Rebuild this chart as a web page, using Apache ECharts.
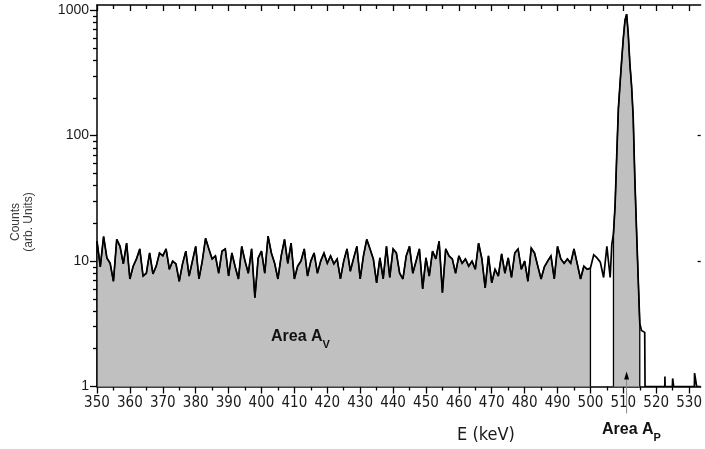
<!DOCTYPE html>
<html>
<head>
<meta charset="utf-8">
<script src="https://cdn.jsdelivr.net/npm/echarts@6/dist/echarts.min.js"></script>
<style>
  html, body { margin: 0; padding: 0; background: #ffffff; }
  #chart { width: 705px; height: 449px; }
</style>
</head>
<body>
<div id="chart"></div>
<script>
// Background continuum: 1 keV bins starting at bgStart
const bgStart = 350;
const bgCounts = [
  14.4, 9, 15.7, 10.6, 9.6, 6.9, 14.9, 13.1, 9.5, 13.9,
  7.2, 9.1, 10.4, 12.5, 7.6, 8.0, 11.6, 7.9, 9.1, 11.6,
  11, 12.5, 8.6, 10, 9.5, 6.9, 9.5, 12, 7.6, 10,
  13.1, 7.2, 10, 15.2, 12.5, 10.4, 11, 8, 12, 12.5,
  7.6, 11.6, 9, 7.2, 13.1, 10, 8, 12.5, 5.1, 10.6,
  12, 8, 15.8, 11.6, 9.6, 7.2, 11, 14.9, 9.6, 13.9,
  7.2, 9.1, 10, 12.5, 7.6, 10, 11.6, 8, 10, 11.6,
  9.6, 11, 9.5, 10.4, 7.2, 10, 12.5, 8.3, 10.5, 13.1,
  7.2, 11, 14.9, 12.5, 10.4, 6.7, 10.6, 7.2, 13.1, 7.4,
  12.5, 11.6, 8, 7.2, 11, 13.1, 8, 10, 12.5, 6.0,
  10.6, 7.6, 12, 10.4, 14.4, 5.6, 12.5, 11, 10.4, 8,
  11, 9.6, 10.4, 9.1, 10, 8.6, 13.9, 10.4, 6.1, 11,
  6.7, 8.6, 7.6, 11.4, 8, 10.6, 7.4, 11.6, 12.5, 8.6,
  10, 6.9, 12.7, 11.6, 9.1, 7.2, 9, 10, 11, 7.2,
  13.1, 10.4, 9.6, 10.4, 9.6, 12.5, 9.5, 7.2, 9.1, 8.6,
  8.8, 11.2, 10.6, 9.8, 7.4, 13.1, 7.4
];

// 511 keV photopeak, sampled every 0.5 keV
const peakEnergy = [506.5, 507, 507.5, 508, 508.5, 509, 509.5, 510, 510.5, 511,
                    511.5, 512, 512.5, 513, 513.5, 514, 514.5, 515, 515.5, 516, 516.5, 516.6];
const peakCounts = [13.6, 16.5, 28, 70, 165, 260, 400, 600, 830, 930,
                    640, 370, 250, 140, 45, 18, 7.5, 3.2, 2.8, 2.8, 2.7, 1];

// Sparse counts above the peak
const tailEnergy = [522.6, 522.65, 522.7, 524.9, 525.0, 525.3, 531.6, 531.65, 532.3, 533.5];
const tailCounts = [1, 1.2, 1, 1, 1.16, 1, 1, 1.28, 1, 1];

// Integration windows (keV)
const areaV = [350, 500];
const areaP = [507, 515];
const peakMark = 511;

// Axis extents and ticks
const xMin = 350, xMax = 533.5;
const xTicks = [350, 360, 370, 380, 390, 400, 410, 420, 430, 440,
                450, 460, 470, 480, 490, 500, 510, 520, 530];
const xMinorTicks = xTicks.map(v => v + 5).filter(v => v < xMax);
const yMin = 1, yMax = 1100;
const yTicks = [1, 10, 100, 1000];
const yRightTicks = [10, 100];
const yMinorTicks = [];
for (const d of [1, 10, 100]) {
  for (let k = 2; k <= 9; k++) yMinorTicks.push(d * k);
}

// Assemble spectrum as [energy, counts] pairs
const spectrum = [];
bgCounts.forEach((c, i) => spectrum.push([bgStart + i, c]));
peakEnergy.forEach((e, i) => spectrum.push([e, peakCounts[i]]));
tailEnergy.forEach((e, i) => spectrum.push([e, tailCounts[i]]));

function windowFill(range) {
  const pts = spectrum.filter(p => p[0] >= range[0] && p[0] <= range[1]);
  return [[range[0], 1]].concat(pts, [[range[1], 1]]);
}

// Pick a condensed face for the energy axis if one is installed
const ctx = document.createElement('canvas').getContext('2d');
function textWidth(str, font) { ctx.font = font; return ctx.measureText(str).width; }
const regular = '"Liberation Sans", Arial, sans-serif';
const baseW = textWidth('350 360 370', '15px ' + regular);
let narrow = regular, xLabelSize = 13, titleSize = 16;
for (const fam of ['"Liberation Sans Narrow"', '"DejaVu Sans Condensed"', '"Arial Narrow"']) {
  const w = textWidth('350 360 370', '15px ' + fam + ', ' + regular);
  if (Math.abs(w - baseW) > 1) { narrow = fam + ', ' + regular; xLabelSize = 15; titleSize = 18; break; }
}

const ink = '#1a1a1a';
const fillGray = '#c0c0c0';
const axisColor = '#000';

const chart = echarts.init(document.getElementById('chart'), null, { renderer: 'canvas' });

function xAxisDef(position, ticks, tickLen, inside, showLine, showLabel) {
  return {
    type: 'value', position: position, min: xMin, max: xMax,
    axisLine: { show: showLine, onZero: false, lineStyle: { color: axisColor, width: 1.5 } },
    axisTick: { show: true, inside: inside, length: tickLen, customValues: ticks,
                lineStyle: { color: axisColor, width: 1.3 } },
    axisLabel: showLabel
      ? { show: true, customValues: ticks, margin: 9, fontSize: xLabelSize, fontFamily: narrow, color: ink,
          formatter: v => String(v) }
      : { show: false },
    splitLine: { show: false }
  };
}

function yAxisDef(position, ticks, tickLen, inside, showLine, showLabel) {
  return {
    type: 'log', logBase: 10, min: yMin, max: yMax, position: position,
    axisLine: { show: showLine, onZero: false, lineStyle: { color: axisColor, width: 1.5 } },
    axisTick: { show: true, inside: inside, length: tickLen, customValues: ticks,
                lineStyle: { color: axisColor, width: 1.3 } },
    axisLabel: showLabel
      ? { show: true, customValues: ticks, margin: 8, fontSize: 14, fontFamily: regular, color: ink,
          formatter: v => String(v) }
      : { show: false },
    splitLine: { show: false }
  };
}

const option = {
  animation: false,
  backgroundColor: '#ffffff',
  grid: { left: 97, top: 5, bottom: 62.5, right: 0, containLabel: false },
  xAxis: [
    xAxisDef('bottom', xTicks, 7, false, true, true),
    xAxisDef('bottom', xMinorTicks, 4, false, false, false),
    xAxisDef('top', xTicks, 6, true, true, false),
    xAxisDef('top', xMinorTicks, 4, true, false, false)
  ],
  yAxis: [
    yAxisDef('left', yTicks, 7, false, true, true),
    yAxisDef('left', yMinorTicks, 4, false, false, false),
    yAxisDef('right', yRightTicks, 3, true, false, false)
  ],
  series: [
    {
      name: 'Area A_V', type: 'line', data: windowFill(areaV),
      showSymbol: false, symbol: 'none', silent: true, z: 2,
      lineStyle: { color: '#000', width: 1.3 },
      areaStyle: { color: fillGray, opacity: 1, origin: 'start' }
    },
    {
      name: 'Area A_P', type: 'line', data: windowFill(areaP),
      showSymbol: false, symbol: 'none', silent: true, z: 2,
      lineStyle: { color: '#000', width: 1.3 },
      areaStyle: { color: fillGray, opacity: 1, origin: 'start' }
    },
    {
      name: 'spectrum', type: 'line', data: spectrum,
      showSymbol: false, symbol: 'none', silent: true, z: 3,
      lineStyle: { color: '#000', width: 1.7, join: 'miter', miterLimit: 3 }
    }
  ]
};
chart.setOption(option);

// Annotations
const boldFont = 'bold 16px "Liberation Sans", Arial, sans-serif';
const subFont = 'bold 11px "Liberation Sans", Arial, sans-serif';
const sideFont = '12px "Liberation Sans", Arial, sans-serif';

function areaLabel(x, y, sub) {
  const w = textWidth('Area A', boldFont);
  return [
    { type: 'text', x: x, y: y, silent: true, z: 20,
      style: { text: 'Area A', font: boldFont, fill: '#111', textAlign: 'left', textVerticalAlign: 'middle' } },
    { type: 'text', x: x + w, y: y + 8, silent: true, z: 20,
      style: { text: sub, font: subFont, fill: '#111', textAlign: 'left', textVerticalAlign: 'middle' } }
  ];
}

const px = chart.convertToPixel({ xAxisIndex: 0 }, peakMark);
const axisY = chart.convertToPixel({ yAxisIndex: 0 }, yMin);

const graphics = [
  { type: 'text', x: 16, y: 222, rotation: Math.PI / 2, silent: true,
    style: { text: 'Counts', font: sideFont, fill: '#3a3a3a', textAlign: 'center', textVerticalAlign: 'middle' } },
  { type: 'text', x: 29, y: 222, rotation: Math.PI / 2, silent: true,
    style: { text: '(arb. Units)', font: sideFont, fill: '#3a3a3a', textAlign: 'center', textVerticalAlign: 'middle' } },
  { type: 'text', x: 486, y: 435, silent: true,
    style: { text: 'E (keV)', font: titleSize + 'px ' + narrow, fill: ink, textAlign: 'center', textVerticalAlign: 'middle' } },
  { type: 'line', silent: true, z: 10,
    shape: { x1: px, y1: axisY - 10, x2: px, y2: axisY + 27 },
    style: { stroke: '#8a8a8a', lineWidth: 1 } },
  { type: 'polygon', silent: true, z: 11,
    shape: { points: [[px, axisY - 15], [px - 2.5, axisY - 7], [px + 2.5, axisY - 7]] },
    style: { fill: '#000' } }
].concat(areaLabel(271, 337, 'V'), areaLabel(602, 430, 'P'));

chart.setOption({ graphic: graphics });
</script>
</body>
</html>
